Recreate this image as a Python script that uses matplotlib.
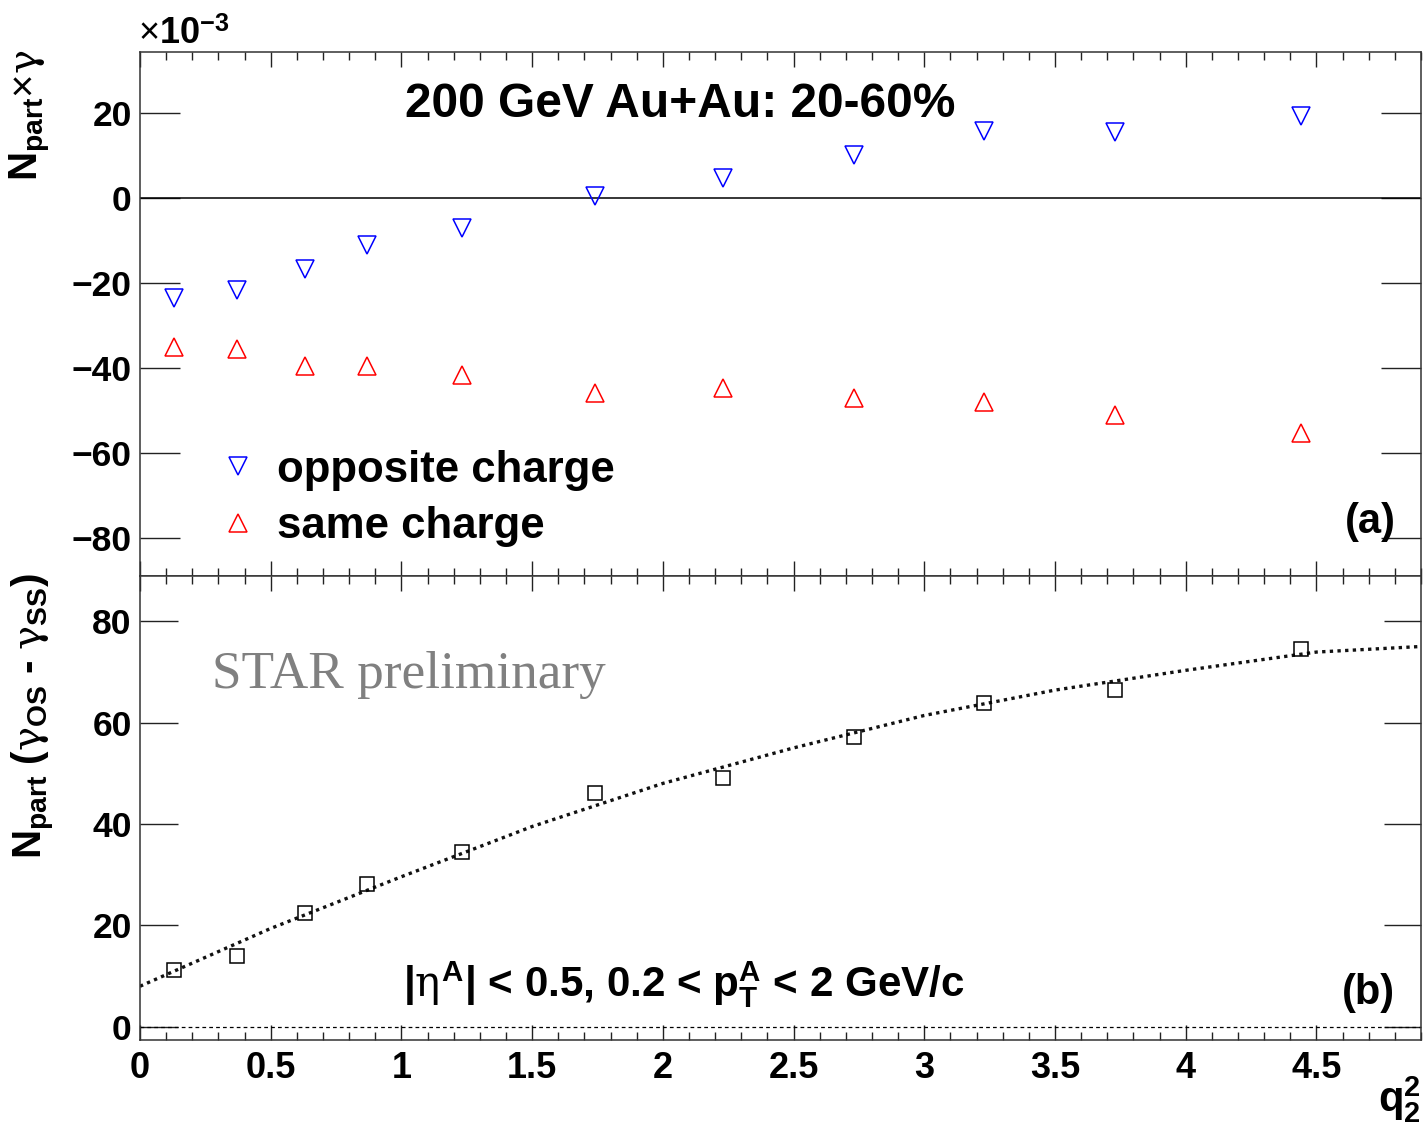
import numpy as np
import matplotlib
matplotlib.use("Agg")
import matplotlib.pyplot as plt
from matplotlib.ticker import MultipleLocator, FuncFormatter
from matplotlib.lines import Line2D

plt.rcParams['font.family'] = ['Liberation Sans', 'DejaVu Sans']
plt.rcParams['font.weight'] = 'bold'
plt.rcParams['mathtext.fontset'] = 'custom'
plt.rcParams['mathtext.rm'] = 'Liberation Sans:bold'
plt.rcParams['mathtext.bf'] = 'Liberation Sans:bold'
plt.rcParams['mathtext.it'] = 'DejaVu Serif:weight=normal'
plt.rcParams['mathtext.sf'] = 'Liberation Sans:weight=normal'

# q2^2 bin centres
q2sq = [0.13, 0.37, 0.63, 0.87, 1.23, 1.74, 2.23, 2.73, 3.23, 3.73, 4.44]

# Npart x gamma, in units of 1e-3
gamma_os_e3 = [-23.5, -21.6, -16.7, -11.1, -7.1, 0.5, 4.7, 10.1, 15.8, 15.5, 19.3]
gamma_ss_e3 = [-35.1, -35.5, -39.5, -39.5, -41.6, -45.9, -44.7, -47.1, -48.0, -51.1, -55.3]

# Npart x (gamma_OS - gamma_SS), in units of 1e-3
delta_gamma_e3 = [11.2, 14.0, 22.5, 28.2, 34.5, 46.1, 49.1, 57.1, 63.8, 66.4, 74.5]

# fitted curve through the difference
fit_x = [0.0, 0.5, 1.0, 1.5, 2.0, 2.5, 3.0, 3.5, 4.0, 4.5, 4.9]
fit_y = [8.0, 19.4, 29.6, 39.5, 48.0, 55.0, 61.4, 66.4, 70.3, 73.9, 75.0]

W, H = 1426, 1131
fig = plt.figure(figsize=(W / 100, H / 100), dpi=100)

left, right = 140 / W, 1421 / W
y_top, y_mid, y_bot = 1 - 52 / H, 1 - 576 / H, 1 - 1040 / H
ax1 = fig.add_axes([left, y_mid, right - left, y_top - y_mid])
ax2 = fig.add_axes([left, y_bot, right - left, y_mid - y_bot])

tick_fmt = FuncFormatter(lambda v, _: f'{v:g}'.replace('-', '\u2212'))

for ax, ylen in ((ax1, 29), (ax2, 27)):
    ax.set_xlim(0, 4.9)
    ax.xaxis.set_major_locator(MultipleLocator(0.5))
    ax.xaxis.set_minor_locator(MultipleLocator(0.1))
    ax.xaxis.set_major_formatter(tick_fmt)
    ax.yaxis.set_major_locator(MultipleLocator(20))
    ax.yaxis.set_major_formatter(tick_fmt)
    ax.tick_params(axis='x', which='both', direction='in', top=True, bottom=True,
                   width=1.0, color='#222222')
    ax.tick_params(axis='x', which='major', length=11, labelsize=26, pad=8)
    ax.tick_params(axis='x', which='minor', length=5.5)
    ax.tick_params(axis='y', which='major', direction='in', left=True, right=True,
                   length=ylen, width=1.0, labelsize=25.5, pad=6, color='#222222')
    for s in ax.spines.values():
        s.set_linewidth(1.1)
        s.set_color('#333333')

ax1.tick_params(axis='x', labelbottom=False)

# panel (a): opposite and same charge correlators
ax1.set_ylim(-89, 34.4)
ax1.axhline(0, color='black', lw=1.1)
ax1.plot(q2sq, gamma_os_e3, ls='none', marker='v', ms=13.5, mfc='none',
         mec='#0000ff', mew=1.1)
ax1.plot(q2sq, gamma_ss_e3, ls='none', marker='^', ms=13.5, mfc='none',
         mec='#ff0000', mew=1.1)

handles = [
    Line2D([], [], ls='none', marker='v', ms=13.5, mfc='none', mec='#0000ff', mew=1.1),
    Line2D([], [], ls='none', marker='^', ms=13.5, mfc='none', mec='#ff0000', mew=1.1),
]
ax1.legend(handles, ['opposite charge', 'same charge'], loc='center left',
           bbox_to_anchor=(0.0595, 0.148), frameon=False, fontsize=31.5,
           handlelength=1.0, handletextpad=0.39, labelspacing=0.35,
           borderpad=0, borderaxespad=0)

ax1.text(0.4215, 0.899, '200 GeV Au+Au: 20-60%', transform=ax1.transAxes,
         ha='center', va='center', fontsize=34.5)
ax1.text(0.98, 0.103, '(a)', transform=ax1.transAxes, ha='right', va='center',
         fontsize=30)

# panel (b): difference with fit
ax2.set_ylim(-2.6, 88.9)
ax2.axhline(0, color='black', lw=0.9, ls=(0, (3, 2.5)))
ax2.plot(fit_x, fit_y, color='#111111', lw=2.4, ls=(0, (1, 1.3)))
ax2.plot(q2sq, delta_gamma_e3, ls='none', marker='s', ms=9.5, mfc='none',
         mec='black', mew=1.1)

ax2.text(0.0562, 0.7586, 'STAR preliminary', transform=ax2.transAxes,
         ha='left', va='baseline', fontsize=38.3, color='#808080',
         family='Liberation Serif', weight='normal')
ax2.text(0.2053, 0.0927,
         r'|$\eta^{\mathbf{A}}$| < 0.5, 0.2 < $\mathbf{p}_{\mathbf{T}}^{\mathbf{A}}$ < 2 GeV/c',
         transform=ax2.transAxes, ha='left', va='baseline', fontsize=30.3)
ax2.text(0.98, 0.101, '(b)', transform=ax2.transAxes, ha='right', va='center',
         fontsize=30)

# axis titles
fig.text(30 / W, 1 - 50 / H, r'N$_{\mathbf{part}}$$\mathsf{\times}\gamma$', rotation=90,
         ha='center', va='top', fontsize=29)
fig.text(33 / W, 1 - 573 / H,
         r'N$_{\mathbf{part}}$ ($\gamma_{\mathbf{OS}}$ - $\gamma_{\mathbf{SS}}$)',
         rotation=90, ha='center', va='top', fontsize=29)
fig.text(138 / W, 1 - 44 / H, r'$\mathsf{\times}$10$^{-3}$', ha='left', va='baseline',
         fontsize=26)
fig.text(1421 / W, 1 - 1100 / H, r'$\mathbf{q}_{2}^{2}$', ha='right', va='center',
         fontsize=30)

fig.savefig('out.png', dpi=100, facecolor='white')
